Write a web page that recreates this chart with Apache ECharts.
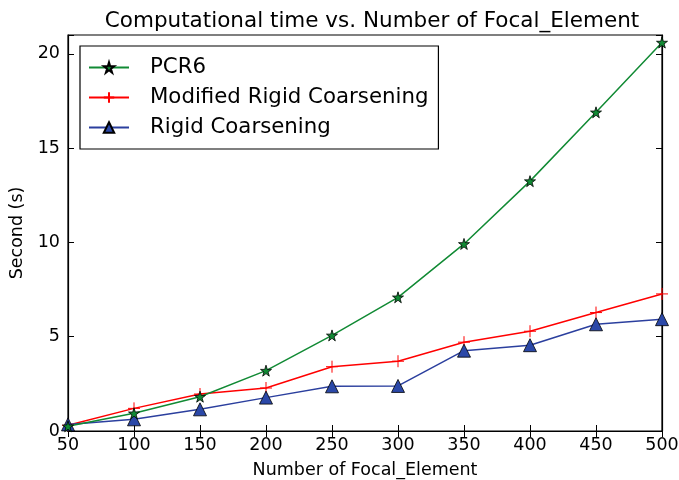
<!DOCTYPE html>
<html><head><meta charset="utf-8">
<script src="https://cdn.jsdelivr.net/npm/echarts@6/dist/echarts.min.js"></script>
<style>html,body{margin:0;padding:0;background:#fff}#c{width:679px;height:480px}</style>
</head><body><div id="c"></div>
<script>
const focalElements = [50, 100, 150, 200, 250, 300, 350, 400, 450, 500];
const pcr6 = [0.25, 0.94, 1.82, 3.2, 5.07, 7.09, 9.92, 13.25, 16.9, 20.6];
const modifiedRigid = [0.3, 1.2, 1.96, 2.28, 3.41, 3.7, 4.71, 5.29, 6.28, 7.27];
const rigid = [0.35, 0.62, 1.15, 1.77, 2.37, 2.39, 4.26, 4.55, 5.66, 5.93];
const yTicks = [0, 5, 10, 15, 20];

const font = 'DejaVu Sans';
const star = 'path://M50,0 L61,35 L98,35 L68,57 L79,91 L50,70 L21,91 L32,57 L2,35 L39,35 Z';
const plus = 'path://M0,50 L100,50 M50,0 L50,100';
const pairs = arr => focalElements.map((x, i) => [x, arr[i]]);

const chart = echarts.init(document.getElementById('c'), null, {renderer: 'canvas'});
const axisCommon = {
  axisLine: {show: true, lineStyle: {color: '#000', width: 1.2}},
  axisTick: {show: true, inside: true, length: 6, lineStyle: {color: '#000'}},
  splitLine: {show: false}
};
chart.setOption({
  animation: false,
  backgroundColor: '#fff',
  title: {
    text: 'Computational time vs. Number of Focal_Element',
    left: 367, top: 5, textAlign: 'center',
    textStyle: {fontFamily: font, fontSize: 21.5, fontWeight: 'normal', color: '#000'}
  },
  grid: {left: 68, right: 17, top: 35, bottom: 49, show: true, borderColor: '#000', borderWidth: 1.2,
    containLabel: false, outerBoundsMode: 'none'},
  legend: {
    left: 80, top: 46, orient: 'vertical',
    data: ['PCR6', 'Modified Rigid Coarsening', 'Rigid Coarsening'],
    borderColor: '#000', borderWidth: 1.2, backgroundColor: '#fff',
    padding: [11, 10, 11, 8], itemGap: 9, itemWidth: 40, itemHeight: 13,
    textStyle: {fontFamily: font, fontSize: 21.3, color: '#000', padding: [0, 0, 0, 16]}
  },
  xAxis: [
    Object.assign({
      type: 'value', min: 50, max: 500, interval: 50, position: 'bottom',
      name: 'Number of Focal_Element', nameLocation: 'middle', nameGap: 30,
      nameTextStyle: {fontFamily: font, fontSize: 17.5, color: '#000'},
      axisLabel: {fontFamily: font, fontSize: 17.5, color: '#000', margin: 5}
    }, axisCommon),
    Object.assign({
      type: 'value', min: 50, max: 500, interval: 50, position: 'top',
      axisLabel: {show: false}
    }, axisCommon)
  ],
  yAxis: [
    Object.assign({
      type: 'value', min: 0, max: 21, interval: 5, position: 'left',
      name: 'Second (s)', nameLocation: 'middle', nameGap: 37,
      nameTextStyle: {fontFamily: font, fontSize: 17.5, color: '#000'},
      axisLabel: {fontFamily: font, fontSize: 17.5, color: '#000', margin: 8,
        formatter: v => yTicks.includes(v) ? String(v) : ''}
    }, axisCommon),
    Object.assign({
      type: 'value', min: 0, max: 21, interval: 5, position: 'right',
      axisLabel: {show: false}
    }, axisCommon)
  ],
  series: [
    {
      name: 'PCR6', type: 'line', data: pairs(pcr6),
      symbol: star, symbolSize: 11,
      lineStyle: {color: '#118a34', width: 1.5},
      itemStyle: {color: '#118a34', borderColor: '#000', borderWidth: 0.8},
      z: 3
    },
    {
      name: 'Modified Rigid Coarsening', type: 'line', data: pairs(modifiedRigid),
      symbol: plus, symbolSize: 12,
      lineStyle: {color: '#ff0000', width: 1.5},
      itemStyle: {color: '#ff0000', borderColor: '#ff0000', borderWidth: 1},
      z: 2
    },
    {
      name: 'Rigid Coarsening', type: 'line', data: pairs(rigid),
      symbol: 'triangle', symbolSize: 13,
      lineStyle: {color: '#2b3f9e', width: 1.5},
      itemStyle: {color: '#2b48a8', borderColor: '#000', borderWidth: 0.8},
      z: 2
    }
  ]
});
</script>
</body></html>
